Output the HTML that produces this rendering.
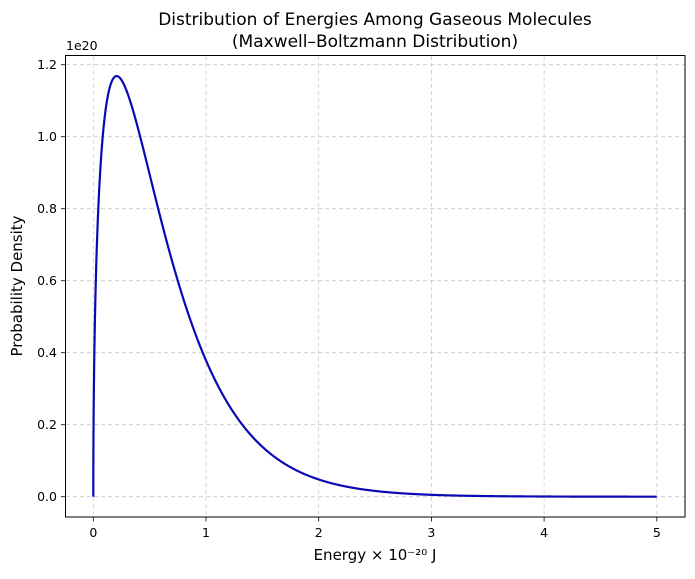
<!DOCTYPE html>
<html><head><meta charset="utf-8"><style>
body{margin:0;background:#fff;}
svg text{font-family:"DejaVu Sans","Liberation Sans",sans-serif;fill:#000;}
</style></head><body>
<svg id="s" width="695" height="574" viewBox="0 0 695 574" xmlns="http://www.w3.org/2000/svg">
<rect width="695" height="574" fill="#fff"/>
<g id="grid" stroke="#cccccc" stroke-width="0.8" stroke-dasharray="4,3"></g>
<path id="curve" fill="none" stroke="#0a0ab4" stroke-width="2.2"/>
<rect x="65.5" y="55.5" width="619.5" height="461.5" fill="none" stroke="#000" stroke-width="1"/>
<g id="ticks" stroke="#000" stroke-width="0.8"></g>
<g id="labels" font-size="12.5"></g>
<text x="66" y="50" font-size="12.5">1e20</text>
<text x="375" y="25" font-size="17" text-anchor="middle">Distribution of Energies Among Gaseous Molecules</text>
<text x="375" y="47" font-size="17" text-anchor="middle">(Maxwell–Boltzmann Distribution)</text>
<text x="375" y="560" font-size="15" text-anchor="middle">Energy × 10⁻²⁰ J</text>
<text transform="translate(22,286) rotate(-90)" font-size="15" text-anchor="middle">Probability Density</text>
</svg>
<script>
var ns="http://www.w3.org/2000/svg";
function X(e){return 93.3+e*112.7;}
function Y(v){return 496.7-v*360;}
var g=document.getElementById('grid'),t=document.getElementById('ticks'),l=document.getElementById('labels');
function el(p,tag,a,txt){var e=document.createElementNS(ns,tag);for(var k in a)e.setAttribute(k,a[k]);if(txt!=null)e.textContent=txt;p.appendChild(e);}
for(var i=0;i<=5;i++){var x=X(i);el(g,'line',{x1:x,x2:x,y1:56,y2:517});el(t,'line',{x1:x,x2:x,y1:517,y2:521.5});el(l,'text',{x:x,y:537,'text-anchor':'middle'},String(i));}
for(var j=0;j<=6;j++){var v=j*0.2,y=Y(v);el(g,'line',{x1:66,x2:685,y1:y,y2:y});el(t,'line',{x1:61,x2:65.5,y1:y,y2:y});el(l,'text',{x:57,y:y+4.5,'text-anchor':'end'},v.toFixed(1));}
var kT=0.41419,d="";
for(var n=0;n<=2000;n++){var e=5*Math.pow(n/2000,1.6);var f=2*Math.sqrt(e/Math.PI)*Math.pow(kT,-1.5)*Math.exp(-e/kT);d+=(n?"L":"M")+X(e).toFixed(2)+","+Y(f).toFixed(2);}
document.getElementById('curve').setAttribute('d',d);
</script>
</body></html>
